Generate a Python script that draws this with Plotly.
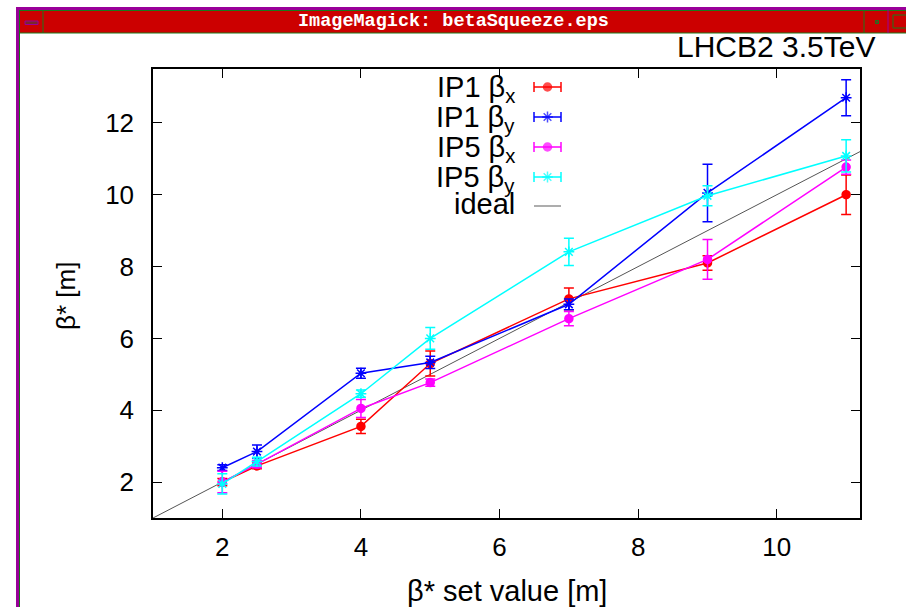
import plotly.graph_objects as go

# ---------------- data ----------------
beta_set = [2, 2.5, 4, 5, 7, 9, 11]

ip1_bx = [2.0, 2.45, 3.55, 5.3, 7.1, 8.1, 10.0]
ip1_bx_err = [0.1, 0.08, 0.2, 0.35, 0.3, 0.2, 0.55]

ip1_by = [2.4, 2.85, 5.03, 5.33, 6.95, 10.05, 12.7]
ip1_by_err = [0.08, 0.18, 0.14, 0.17, 0.15, 0.8, 0.5]

ip5_bx = [2.0, 2.5, 4.05, 4.77, 6.55, 8.2, 10.77]
ip5_bx_err = [0.3, 0.1, 0.25, 0.1, 0.2, 0.55, 0.2]

ip5_by = [1.95, 2.57, 4.46, 6.0, 8.41, 9.97, 11.08]
ip5_by_err = [0.28, 0.12, 0.1, 0.3, 0.38, 0.28, 0.45]

ideal_x = [1, 11.2]

series_names = ["IP1 β<sub>x</sub>", "IP1 β<sub>y</sub>", "IP5 β<sub>x</sub>", "IP5 β<sub>y</sub>"]
x_ticks = [2, 4, 6, 8, 10]
y_ticks = [2, 4, 6, 8, 10, 12]

# ---------------- layout geometry (pixels) ----------------
W, H = 906, 607
L, R, T, B = 153, 860, 69, 518


def px(xp):
    return (xp - L) / (R - L)


def py(yp):
    return (B - yp) / (B - T)


colors = ["#ff0000", "#0000ff", "#ff00ff", "#00ffff"]
symbols = ["circle", "asterisk-open", "circle", "asterisk-open"]
series = [(ip1_bx, ip1_bx_err), (ip1_by, ip1_by_err), (ip5_bx, ip5_bx_err), (ip5_by, ip5_by_err)]

fig = go.Figure()

# ideal line
fig.add_trace(go.Scatter(x=ideal_x, y=ideal_x, mode="lines",
                         line=dict(color="#555555", width=1), showlegend=False,
                         hoverinfo="skip"))

for (vals, errs), c, s in zip(series, colors, symbols):
    fig.add_trace(go.Scatter(
        x=beta_set, y=vals, mode="lines+markers",
        line=dict(color=c, width=1.5),
        marker=dict(color=c, symbol=s, size=8 if s == "circle" else 9,
                    line=dict(color=c, width=1.5)),
        error_y=dict(type="data", array=errs, visible=True, color=c,
                     thickness=1.5, width=5),
        showlegend=False, cliponaxis=False,
    ))

# ---------------- custom gnuplot-style key ----------------
key_text_right = 517
key_sample_l, key_sample_r = 534, 561
key_rows = [87, 117, 147, 177, 206]
key_x_center = (key_sample_l + key_sample_r) / 2

shapes = []
annotations = []
font_family = "Liberation Sans"

for i, name in enumerate(series_names):
    yr = key_rows[i]
    annotations.append(dict(xref="paper", yref="paper", x=px(key_text_right), y=py(yr + 2),
                            xanchor="right", yanchor="middle", showarrow=False,
                            text=name, font=dict(family=font_family, size=29, color="#000000")))
    shapes.append(dict(type="line", xref="paper", yref="paper",
                       x0=px(key_sample_l), x1=px(key_sample_r), y0=py(yr), y1=py(yr),
                       line=dict(color=colors[i], width=1.5)))
    for xe in (key_sample_l, key_sample_r):
        shapes.append(dict(type="line", xref="paper", yref="paper",
                           x0=px(xe), x1=px(xe), y0=py(yr - 5), y1=py(yr + 5),
                           line=dict(color=colors[i], width=1.5)))
annotations.append(dict(xref="paper", yref="paper", x=px(key_text_right), y=py(key_rows[4] - 2),
                        xanchor="right", yanchor="middle", showarrow=False,
                        text="ideal", font=dict(family=font_family, size=29, color="#000000")))
shapes.append(dict(type="line", xref="paper", yref="paper",
                   x0=px(key_sample_l), x1=px(key_sample_r), y0=py(key_rows[4]), y1=py(key_rows[4]),
                   line=dict(color="#777777", width=1.2)))

# key markers on an overlay axis in pixel units
fig.add_trace(go.Scatter(
    x=[key_x_center] * 4, y=key_rows[:4], mode="markers",
    marker=dict(color=colors, symbol=symbols, size=[8, 9, 8, 9],
                line=dict(color=colors, width=1.5)),
    xaxis="x2", yaxis="y2", showlegend=False, hoverinfo="skip", cliponaxis=False))

# title
annotations.append(dict(xref="paper", yref="paper", x=px(877), y=py(47),
                        xanchor="right", yanchor="middle", showarrow=False,
                        text="LHCB2 3.5TeV",
                        font=dict(family=font_family, size=30, color="#000000")))

# axis titles
annotations.append(dict(xref="paper", yref="paper", x=px(507), y=py(591),
                        xanchor="center", yanchor="middle", showarrow=False,
                        text="β* set value [m]",
                        font=dict(family=font_family, size=29, color="#000000")))
annotations.append(dict(xref="paper", yref="paper", x=px(66), y=py(296),
                        xanchor="center", yanchor="middle", showarrow=False, textangle=-90,
                        text="β* [m]",
                        font=dict(family=font_family, size=26, color="#000000")))

# ---------------- window chrome ----------------
purple = "#990099"
green = "#1a7a1a"
red_bar = "#cc0000"


def rect(x0, y0, x1, y1, fill, line=None, lw=0):
    shapes.append(dict(type="rect", xref="paper", yref="paper",
                       x0=px(x0), x1=px(x1), y0=py(y0), y1=py(y1),
                       fillcolor=fill, line=dict(color=line or fill, width=lw), layer="above"))


def hline(x0, x1, y, color, w=1):
    shapes.append(dict(type="line", xref="paper", yref="paper",
                       x0=px(x0), x1=px(x1), y0=py(y), y1=py(y),
                       line=dict(color=color, width=w), layer="above"))


def vline(x, y0, y1, color, w=1):
    shapes.append(dict(type="line", xref="paper", yref="paper",
                       x0=px(x), x1=px(x), y0=py(y0), y1=py(y1),
                       line=dict(color=color, width=w), layer="above"))


rect(16, 7, W + 2, 10, purple)      # top border
rect(16, 7, 19, H + 2, purple)      # left border
rect(19, 10, W + 2, 33, red_bar)    # title bar
hline(19, W + 2, 10.5, green)
hline(19, W + 2, 33, green)
vline(19.5, 10, H + 2, green)
vline(43, 10, 33, green)
rect(25, 21, 38, 24.5, "#7a2a2a", line=purple, lw=1)
vline(864, 10, 33, green)
vline(888, 10, 33, purple)
rect(875.5, 20.5, 878.5, 23.5, "#7a2a2a", line=green, lw=1)
rect(893, 15, W + 2, 28, red_bar, line=green, lw=1)

annotations.append(dict(xref="paper", yref="paper", x=px(453), y=py(21.5),
                        xanchor="center", yanchor="middle", showarrow=False,
                        text="<b>ImageMagick: betaSqueeze.eps</b>",
                        font=dict(family="Liberation Mono", size=18.5, color="#ffffff")))

axis_common = dict(showgrid=False, zeroline=False, showline=True, linecolor="#000000",
                   linewidth=1.5, mirror="ticks", ticks="inside", ticklen=9,
                   tickwidth=1, tickcolor="#000000", automargin=False,
                   tickfont=dict(family=font_family, size=26, color="#000000"))

fig.update_layout(
    width=W, height=H,
    margin=dict(l=L, r=W - R, t=T, b=H - B, autoexpand=False),
    paper_bgcolor="#ffffff", plot_bgcolor="#ffffff",
    xaxis=dict(range=[1, 11.2], tickvals=x_ticks, ticklabelstandoff=5, **axis_common),
    yaxis=dict(range=[1, 13.5], tickvals=y_ticks, ticklabelstandoff=12, **axis_common),
    xaxis2=dict(range=[L, R], overlaying="x", visible=False, fixedrange=True),
    yaxis2=dict(range=[B, T], overlaying="y", visible=False, fixedrange=True),
    shapes=shapes,
    annotations=annotations,
    showlegend=False,
)

fig.write_html("out.html")
